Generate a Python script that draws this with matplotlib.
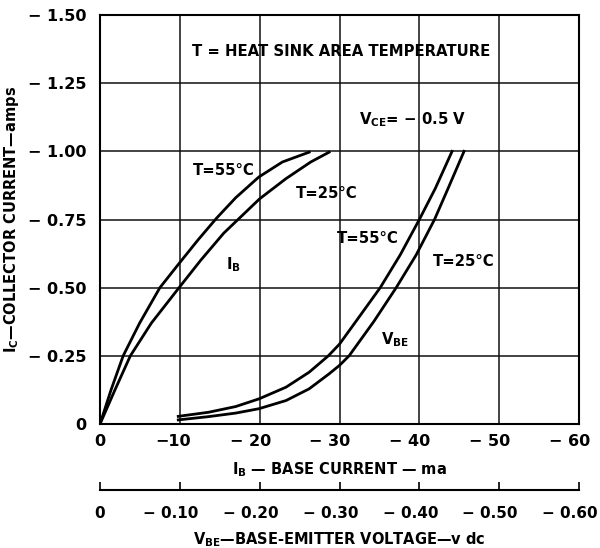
import matplotlib
matplotlib.use('Agg')
import matplotlib.pyplot as plt
from matplotlib.transforms import ScaledTranslation

plt.rcParams['font.family'] = ['DejaVu Sans']
plt.rcParams['font.weight'] = 'bold'
plt.rcParams['mathtext.fontset'] = 'custom'
plt.rcParams['mathtext.rm'] = 'DejaVu Sans:bold'
plt.rcParams['mathtext.default'] = 'rm'

# I_B curves (base current in ma, collector current in amps)
ib_55_ma = [0, -1.38, -2.9, -4.96, -7.5, -9.8, -12.3, -14.6, -17.0, -19.9,
            -22.85, -26.2]
ic_ib_55 = [0, -0.125, -0.25, -0.37, -0.50, -0.585, -0.676, -0.755, -0.83,
            -0.906, -0.961, -0.997]
ib_25_ma = [0, -1.87, -3.8, -6.43, -9.9, -12.6, -15.5, -20.0, -23.3, -26.4,
            -28.7]
ic_ib_25 = [0, -0.125, -0.25, -0.37, -0.50, -0.60, -0.70, -0.826, -0.90,
            -0.961, -0.997]

# V_BE curves (base-emitter voltage in volts)
vbe_55 = [-0.098, -0.136, -0.170, -0.199, -0.233, -0.262, -0.286, -0.30,
          -0.319, -0.351, -0.376, -0.40, -0.42, -0.441]
ic_vbe_55 = [-0.028, -0.043, -0.064, -0.092, -0.135, -0.19, -0.25, -0.293,
             -0.37, -0.50, -0.62, -0.75, -0.864, -1.0]
vbe_25 = [-0.098, -0.136, -0.170, -0.199, -0.233, -0.262, -0.287, -0.30,
          -0.312, -0.343, -0.371, -0.396, -0.419, -0.436, -0.456]
ic_vbe_25 = [-0.015, -0.027, -0.04, -0.056, -0.086, -0.129, -0.184, -0.215,
             -0.25, -0.376, -0.50, -0.62, -0.75, -0.864, -1.0]

y_ticks = [0, -0.25, -0.50, -0.75, -1.00, -1.25, -1.50]
y_labels = ['0', '− 0.25', '− 0.50', '− 0.75', '− 1.00', '− 1.25', '− 1.50']
x_ticks = [0, -10, -20, -30, -40, -50, -60]
x_labels = ['0', '−10', '− 20', '− 30', '− 40', '− 50', '− 60']
v_ticks = [0, -0.1, -0.2, -0.3, -0.4, -0.5, -0.6]
v_labels = ['0', '− 0.10', '− 0.20', '− 0.30', '− 0.40', '− 0.50', '− 0.60']


def centre_numbers(axis, labels, size):
    # slide each label left by half its leading dash so the number sits on the tick
    for lbl, t in zip(axis.get_majorticklabels(), labels):
        if t.startswith('− '):
            dx = 0.593 * size
        elif t.startswith('−'):
            dx = 0.419 * size
        else:
            continue
        lbl.set_transform(lbl.get_transform() +
                          ScaledTranslation(-dx / 72, 0, fig.dpi_scale_trans))


fig = plt.figure(figsize=(6, 5.48), dpi=100)
ax = fig.add_axes([0.1667, 0.2263, 0.7983, 0.7463])

ax.set_xlim(0, -60)
ax.set_ylim(0, -1.5)
ax.set_xticks(x_ticks)
ax.set_xticklabels(x_labels)
ax.set_yticks(y_ticks)
ax.set_yticklabels(y_labels)
ax.tick_params(length=0, labelsize=11.5)
ax.tick_params(axis='y', pad=10)
ax.tick_params(axis='x', pad=7)
ax.grid(True, color='#111111', lw=1.1)
for s in ax.spines.values():
    s.set_linewidth(1.5)

ax.plot(ib_55_ma, ic_ib_55, color='black', lw=2)
ax.plot(ib_25_ma, ic_ib_25, color='black', lw=2)

# V_BE curves on their own volt scale
axv = ax.twiny()
axv.set_xlim(0, -0.6)
axv.axis('off')
axv.plot(vbe_55, ic_vbe_55, color='black', lw=2)
axv.plot(vbe_25, ic_vbe_25, color='black', lw=2)

ax.set_ylabel('I$_{C}$—COLLECTOR CURRENT—amps', fontsize=10.5,
              fontweight='bold', labelpad=5)
ax.set_xlabel('I$_{B}$ — BASE CURRENT — ma', fontsize=10.5,
              fontweight='bold', labelpad=8)

sec = ax.secondary_xaxis(-0.161, functions=(lambda x: x / 100, lambda v: v * 100))
sec.set_xticks(v_ticks)
sec.set_xticklabels(v_labels)
sec.tick_params(direction='in', length=6, width=1.2, labelsize=11, pad=12)
sec.spines['bottom'].set_linewidth(1.5)
sec.set_xlabel('V$_{BE}$—BASE-EMITTER VOLTAGE—v dc', fontsize=10.5,
               fontweight='bold', labelpad=6)

centre_numbers(ax.xaxis, x_labels, 11.5)
centre_numbers(sec.xaxis, v_labels, 11)

kw = dict(fontsize=10.7, ha='center', va='center', fontweight='bold')
ax.text(-30.2, -1.365, 'T = HEAT SINK AREA TEMPERATURE', **kw)
ax.text(-39.2, -1.115, 'V$_{CE}$= − 0.5 V', **kw)
ax.text(-15.5, -0.931, 'T=55°C', **kw)
ax.text(-28.4, -0.844, 'T=25°C', **kw)
ax.text(-16.7, -0.585, 'I$_{B}$', **kw)
ax.text(-33.6, -0.68, 'T=55°C', **kw)
ax.text(-45.6, -0.597, 'T=25°C', **kw)
ax.text(-37.0, -0.308, 'V$_{BE}$', **kw)

fig.savefig('out.png', dpi=100, facecolor='white')
